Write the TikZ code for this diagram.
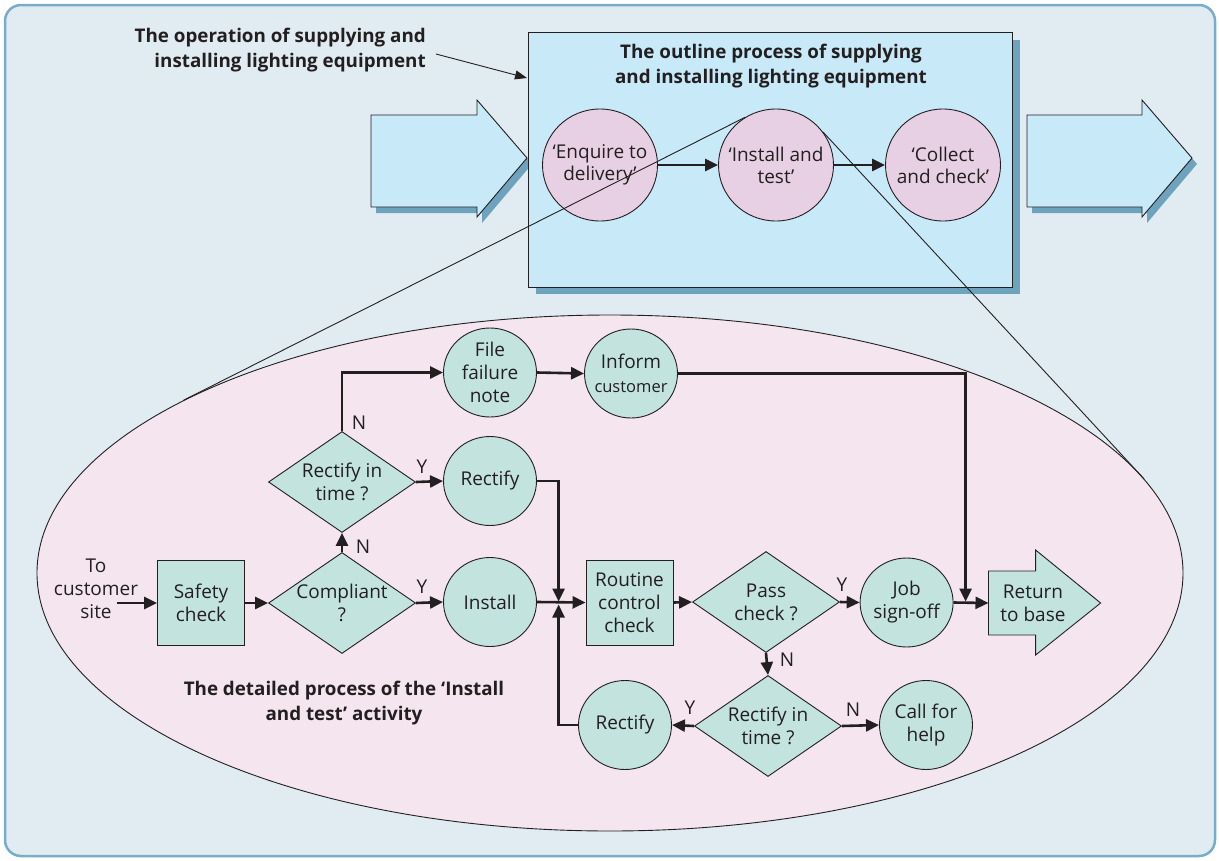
\documentclass[tikz,border=0pt]{standalone}
\usepackage{fontspec}
\setmainfont{Open Sans}
\usetikzlibrary{shapes.geometric,arrows.meta}
\definecolor{bgc}{HTML}{E0ECF2}
\definecolor{framec}{HTML}{78ADC8}
\definecolor{pinkc}{HTML}{F4E5EF}
\definecolor{boxc}{HTML}{C7E9F8}
\definecolor{shadc}{HTML}{6EA3BE}
\definecolor{epink}{HTML}{E8D0E4}
\definecolor{nodec}{HTML}{C3E3DF}
\definecolor{linec}{HTML}{231F20}
\definecolor{txtc}{HTML}{231F20}
\begin{document}
\begin{tikzpicture}[x=1pt,y=-1pt,
  txt/.style={font=\fontsize{19}{23}\selectfont, text=txtc, align=center, inner sep=0pt},
  ptxt/.style={font=\fontsize{19}{22}\selectfont, text=txtc, align=center, inner sep=0pt},
  btxt/.style={font=\fontsize{18.8}{25}\selectfont\bfseries, text=txtc, inner sep=0pt},
  circ/.style={ellipse, draw=linec, line width=0.9pt, fill=nodec, minimum width=93pt, minimum height=89pt, inner sep=0pt},
  pcirc/.style={ellipse, draw=linec, line width=0.9pt, fill=epink, minimum width=115pt, minimum height=112pt, inner sep=0pt},
  sbox/.style={rectangle, draw=linec, line width=0.9pt, fill=nodec, minimum width=87pt, minimum height=85pt, inner sep=0pt, txt},
  dia/.style={diamond, draw=linec, line width=0.9pt, fill=nodec, minimum width=147pt, minimum height=101pt, inner sep=0pt},
  flow/.style={line width=2.6pt, draw=linec, -{Triangle[length=13pt,width=12pt]}},
  thin/.style={line width=0.9pt, draw=linec},
  bigarrow/.style={fill=boxc, draw=linec, line width=0.9pt},
  yn/.style={txt}
]
\useasboundingbox (0,0) rectangle (1219,860);
% outer frame
\draw[rounded corners=16pt, fill=bgc, draw=framec, line width=2.5pt] (5,5) rectangle (1215,856);

% detailed process ellipse
\node[ellipse, draw=linec, line width=0.9pt, fill=pinkc, minimum width=1146pt, minimum height=516pt, inner sep=0pt] (det) at (610,573) {};

% big blue arrows
\fill[shadc, shift={(5,6)}] (371,115) -- (477,115) -- (477,100) -- (527,158) -- (477,217) -- (477,207) -- (371,207) -- cycle;
\draw[bigarrow] (371,115) -- (477,115) -- (477,100) -- (527,158) -- (477,217) -- (477,207) -- (371,207) -- cycle;
\fill[shadc, shift={(5,6)}] (1027,115) -- (1142,115) -- (1142,100) -- (1192,158) -- (1142,217) -- (1142,207) -- (1027,207) -- cycle;
\draw[bigarrow] (1027,115) -- (1142,115) -- (1142,100) -- (1192,158) -- (1142,217) -- (1142,207) -- (1027,207) -- cycle;

% outline box
\fill[shadc] (536,40) rectangle (1020,294);
\node[draw=linec, line width=0.9pt, fill=boxc, minimum width=484pt, minimum height=255pt, inner sep=0pt, anchor=north west] (obox) at (528,32) {};
\node[btxt, align=center] (otitle) at (771,66) {The outline process of supplying\\and installing lighting equipment};

\node[pcirc, label={[ptxt]center:{‘Enquire to\\delivery’}}] (enq) at (600,165) {};
\node[pcirc, label={[ptxt]center:{‘Install and\\test’}}] (ite) at (776,165) {};
\node[pcirc, label={[ptxt]center:{‘Collect\\and check’}}] (col) at (943,165) {};
\draw[flow, line width=2.8pt] (enq) -- (ite);
\draw[flow, line width=2.8pt] (ite) -- (col);

% operation label
\node[btxt, align=right, anchor=east] (oplbl) at (426,50) {The operation of supplying and\\installing lighting equipment};
\coordinate (la) at (436,54);
\coordinate (lb) at (527,78);
\draw[thin, -{Triangle[length=12pt,width=9pt]}] (la) -- (lb);

% magnifier lines
\draw[thin] (ite.123.4) -- (det.158.06);
\draw[thin] (ite.35) -- (det.10.6);

% flowchart
\node[txt] (cust) at (96,589) {To\\customer\\site};
\coordinate (custa) at (117,603);
\node[sbox] (safe) at (201,603) {Safety\\check};
\node[dia, label={[txt]center:{Compliant\\?}}] (comp) at (342,603) {};
\node[dia, label={[txt]center:{Rectify in\\time ?}}] (rit1) at (342,482) {};
\node[circ, label={[txt]center:{File\\failure\\note}}] (ffn) at (490,372.5) {};
\node[circ, label={[txt]center:{Rectify}}] (rec1) at (490,481) {};
\node[circ, label={[txt]center:{Install}}] (inst) at (490,602) {};
\node[circ, label={[txt, font=\fontsize{19}{24}\selectfont]center:{Inform\\{\fontsize{16.5}{20}\selectfont customer}}}] (inf) at (631,373.5) {};
\node[sbox] (rcc) at (629.5,602.5) {Routine\\control\\check};
\node[dia, label={[txt]center:{Pass\\check ?}}] (pass) at (766,602) {};
\node[circ, label={[txt]center:{Job\\sign-off}}] (job) at (906.6,602.5) {};
\node[dia, label={[txt]center:{Rectify in\\time ?}}] (rit2) at (768,726) {};
\node[circ, label={[txt]center:{Rectify}}] (rec2) at (625,725) {};
\node[circ, label={[txt]center:{Call for\\help}}] (help) at (926,725) {};

% return to base arrow
\draw[thin, fill=nodec] (988.5,571) -- (1035.6,571) -- (1035.6,550) -- (1100.6,603) -- (1035.6,655) -- (1035.6,635) -- (988.5,635) -- cycle;
\node[txt] (ret) at (1033,603.5) {Return\\to base};
\coordinate (retw) at (988.5,603);
\coordinate (junc) at (558.6,603);
\coordinate (retj) at (965.6,603);

% connectors
\draw[flow] (custa) -- (safe.west);
\draw[flow] (safe.east) -- (comp.west);
\draw[flow] (comp.east) -- (inst.west);
\draw[flow] (comp.north) -- (rit1.south);
\draw[flow] (rit1.east) -- (rec1.west);
\draw[flow] (rit1.north) |- (ffn.west);
\draw[flow] (ffn.east) -- (inf.west);
\draw[flow, shorten >=1.5pt] (inf.east) -| (retj);
\draw[flow, shorten >=1.5pt] (rec1.east) -| (junc);
\draw[flow, shorten >=1.5pt] (rec2.west) -| (junc);
\draw[flow] (inst.east) -- (rcc.west);
\draw[flow] (rcc.east) -- (pass.west);
\draw[flow] (pass.east) -- (job.west);
\draw[flow] (job.east) -- (retw);
\draw[flow] (pass.south) -- (rit2.north);
\draw[flow] (rit2.west) -- (rec2.east);
\draw[flow] (rit2.east) -- (help.west);

% Y / N labels
\node[yn] (n1) at (363,547) {N};
\node[yn] (n2) at (359,423) {N};
\node[yn] (y1) at (422,467) {Y};
\node[yn] (y2) at (422,587) {Y};
\node[yn] (y3) at (842,585) {Y};
\node[yn] (n3) at (787,660) {N};
\node[yn] (y4) at (690,708) {Y};
\node[yn] (n4) at (853,710) {N};

\node[btxt, align=center] (dlbl) at (344,703) {The detailed process of the ‘Install\\and test’ activity};
\end{tikzpicture}
\end{document}
